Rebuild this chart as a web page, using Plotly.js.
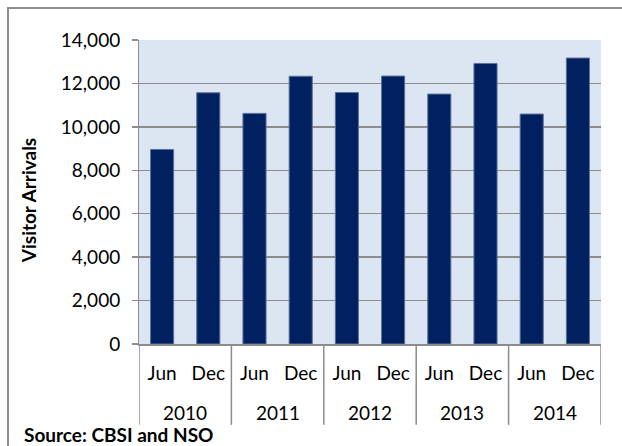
<!DOCTYPE html>
<html>
<head>
<meta charset="utf-8">
<script src="https://cdn.plot.ly/plotly-3.0.1.min.js"></script>
<style>
  html, body { margin: 0; padding: 0; background: #fff; overflow: hidden; }
  #frame { position: absolute; left: 7px; top: 7px; width: 700px; height: 500px;
           border-top: 2px solid #8e8e8e; border-left: 2px solid #8e8e8e; }
  #chart { position: absolute; left: 0; top: 0; width: 622px; height: 446px; }
</style>
</head>
<body>
<div id="frame"></div>
<div id="chart"></div>
<script>
// visitor arrivals, half-year snapshots
var years = ['2010', '2010', '2011', '2011', '2012', '2012', '2013', '2013', '2014', '2014'];
var months = ['Jun', 'Dec', 'Jun', 'Dec', 'Jun', 'Dec', 'Jun', 'Dec', 'Jun', 'Dec'];
var arrivals = [8960, 11570, 10620, 12330, 11580, 12340, 11510, 12920, 10590, 13170];
var yTicks = [0, 2000, 4000, 6000, 8000, 10000, 12000, 14000];
var yearLabels = ['2010', '2011', '2012', '2013', '2014'];

// unique category keys, months shown as tick text
var keys = months.map(function (m, i) { return m + ' ' + years[i]; });

var trace = {
    type: 'bar',
    x: keys,
    y: arrivals,
    width: 0.5,
    marker: { color: '#00205f', line: { color: '#5d7199', width: 1 } },
    hoverinfo: 'y'
};

var gridGray = '#8c8c8c';

// year labels under each pair, dividers between the groups
var annotations = yearLabels.map(function (yr, g) {
    return {
        xref: 'x', yref: 'paper',
        x: 2 * g + 0.5, y: -0.224,
        xanchor: 'center', yanchor: 'middle',
        showarrow: false,
        text: yr,
        font: { size: 19 }
    };
});
annotations.push({
    xref: 'paper', yref: 'paper',
    x: -0.253, y: -0.297,
    xanchor: 'left', yanchor: 'middle',
    showarrow: false,
    text: '<b>Source: CBSI and NSO</b>',
    font: { size: 19 }
});
// y title as annotation so it can sit a little below the middle like the original
annotations.push({
    xref: 'paper', yref: 'paper',
    x: -0.24, y: 0.47,
    xanchor: 'center', yanchor: 'middle',
    textangle: -90,
    showarrow: false,
    text: '<b>Visitor Arrivals</b>',
    font: { size: 19 }
});

var shapes = [];
for (var g = 0; g <= yearLabels.length; g++) {
    shapes.push({
        type: 'line',
        xref: 'x', yref: 'paper',
        x0: 2 * g - 0.5, x1: 2 * g - 0.5,
        y0: 0, y1: -0.266,
        line: { color: gridGray, width: 1.5 }
    });
}

var layout = {
    width: 622,
    height: 446,
    margin: { l: 139, r: 21, t: 40, b: 102 },
    paper_bgcolor: 'rgba(0,0,0,0)',
    plot_bgcolor: '#dce6f2',
    font: { family: 'Lato, "DejaVu Sans", sans-serif', size: 19, color: '#000' },
    showlegend: false,
    xaxis: {
        type: 'category',
        categoryorder: 'array',
        categoryarray: keys,
        tickvals: keys,
        ticktext: months,
        range: [-0.5, 9.5],
        showline: true,
        linecolor: gridGray,
        linewidth: 1.5,
        ticks: '',
        showgrid: false,
        ticklabelstandoff: 12
    },
    yaxis: {
        range: [0, 14000],
        tickvals: yTicks,
        tickformat: ',d',
        showgrid: true,
        gridcolor: gridGray,
        gridwidth: 1.5,
        zeroline: false,
        showline: true,
        linecolor: gridGray,
        linewidth: 1,
        ticks: 'outside',
        ticklen: 6,
        tickcolor: gridGray,
        tickwidth: 1.5,
        ticklabelstandoff: 8
    },
    annotations: annotations,
    shapes: shapes
};

Plotly.newPlot('chart', [trace], layout, { displayModeBar: false, staticPlot: true });
</script>
</body>
</html>
